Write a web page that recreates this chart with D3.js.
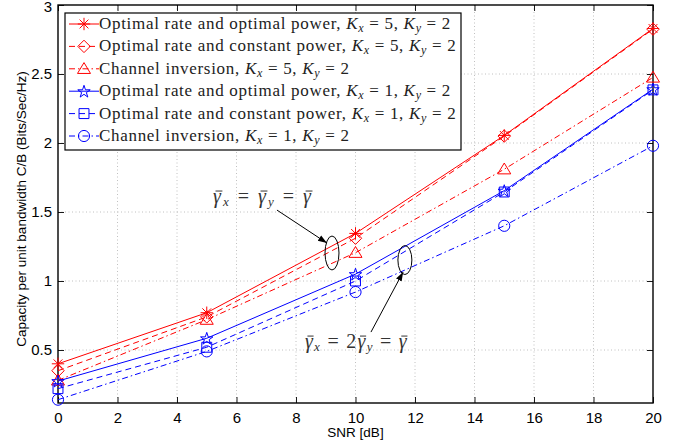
<!DOCTYPE html>
<html><head><meta charset="utf-8">
<script src="https://cdn.jsdelivr.net/npm/d3@7"></script>
<style>body{margin:0;background:#fff}svg{display:block}</style>
</head><body>
<svg id="c" width="686" height="445"></svg>
<script>
const snr = [0, 5, 10, 15, 20];
const optOptK5 = [0.40, 0.77, 1.345, 2.055, 2.83];
const optConstK5 = [0.35, 0.74, 1.31, 2.05, 2.825];
const invK5 = [0.28, 0.72, 1.205, 1.81, 2.475];
const optOptK1 = [0.275, 0.585, 1.05, 1.655, 2.39];
const optConstK1 = [0.22, 0.52, 1.0, 1.645, 2.385];
const invK1 = [0.14, 0.49, 0.92, 1.40, 1.98];
const xTicks = [0, 2, 4, 6, 8, 10, 12, 14, 16, 18, 20];
const yTicks = [0.5, 1, 1.5, 2, 2.5, 3];
const seriesNames = ["optOptK5","optConstK5","invK5","optOptK1","optConstK1","invK1"];
const legendLabels = [
  ["Optimal rate and optimal power, ", "5"],
  ["Optimal rate and constant power, ", "5"],
  ["Channel inversion, ", "5"],
  ["Optimal rate and optimal power, ", "1"],
  ["Optimal rate and constant power, ", "1"],
  ["Channel inversion, ", "1"]
];
const seriesValues = [optOptK5, optConstK5, invK5, optOptK1, optConstK1, invK1];
const colors = ["#ff0000","#ff0000","#ff0000","#0000ff","#0000ff","#0000ff"];
const dashes = [null, "6,4", "6,3,1.5,3", null, "6,4", "6,3,1.5,3"];
const markers = ["asterisk","diamond","triangle","pentagram","square","circle"];

const svg = d3.select("#c");
const L = 58, R = 653, T = 5, B = 403;
const x = d3.scaleLinear().domain([0, 20]).range([L, R]);
const y = d3.scaleLinear().domain([0.116, 3]).range([B, T]);

// grid
const g = svg.append("g");
g.selectAll(".gx").data(xTicks.slice(1, -1)).join("line")
  .attr("x1", d => x(d)).attr("x2", d => x(d)).attr("y1", T).attr("y2", B)
  .attr("stroke", "#b0b0b0").attr("stroke-width", 0.8).attr("stroke-dasharray", "1,2.5");
g.selectAll(".gy").data(yTicks.slice(0, -1)).join("line")
  .attr("x1", L).attr("x2", R).attr("y1", d => y(d)).attr("y2", d => y(d))
  .attr("stroke", "#b0b0b0").attr("stroke-width", 0.8).attr("stroke-dasharray", "1,2.5");

// axes
const fontSans = "'Liberation Sans', Arial, sans-serif";
const ax = svg.append("g").attr("transform", `translate(0,${B})`)
  .call(d3.axisBottom(x).tickValues(xTicks).tickSize(-6).tickPadding(9).tickFormat(d3.format("d")));
const axT = svg.append("g").attr("transform", `translate(0,${T})`)
  .call(d3.axisTop(x).tickValues(xTicks).tickSize(-6).tickFormat(""));
const ay = svg.append("g").attr("transform", `translate(${L},0)`)
  .call(d3.axisLeft(y).tickValues(yTicks).tickSize(-6).tickPadding(6).tickFormat(d => d3.format("")(d)));
const ayR = svg.append("g").attr("transform", `translate(${R},0)`)
  .call(d3.axisRight(y).tickValues(yTicks).tickSize(-6).tickFormat(""));
[ax, axT, ay, ayR].forEach(a => {
  a.select(".domain").remove();
  a.selectAll("line").attr("stroke", "#000").attr("stroke-width", 0.9);
  a.selectAll("text").attr("font-family", fontSans).attr("font-size", 15).attr("fill", "#000");
});
ay.selectAll(".tick text").filter(d => d === 3).attr("dy", "0.32em").attr("y", 1.5);
svg.append("rect").attr("x", L).attr("y", T).attr("width", R - L).attr("height", B - T)
  .attr("fill", "none").attr("stroke", "#000").attr("stroke-width", 1.4);

svg.append("text").attr("x", x(10)).attr("y", 437).attr("text-anchor", "middle")
  .attr("font-family", fontSans).attr("font-size", 13.5).text("SNR [dB]");
svg.append("text").attr("transform", `translate(26,${(T + B) / 2 + 5}) rotate(-90)`)
  .attr("text-anchor", "middle").attr("font-family", fontSans).attr("font-size", 13.5)
  .text("Capacity per unit bandwidth C/B (Bits/Sec/Hz)");

// markers
function markerPath(type, s) {
  const p = d3.path();
  if (type === "asterisk") {
    for (let k = 0; k < 4; k++) {
      const a = k * Math.PI / 4;
      p.moveTo(-s * Math.cos(a), -s * Math.sin(a));
      p.lineTo(s * Math.cos(a), s * Math.sin(a));
    }
  } else if (type === "diamond") {
    p.moveTo(0, -s); p.lineTo(s, 0); p.lineTo(0, s); p.lineTo(-s, 0); p.closePath();
  } else if (type === "triangle") {
    p.moveTo(0, -s); p.lineTo(s * 1.05, s * 0.75); p.lineTo(-s * 1.05, s * 0.75); p.closePath();
  } else if (type === "square") {
    const h = s * 0.8;
    p.rect(-h, -h, 2 * h, 2 * h);
  } else if (type === "circle") {
    p.arc(0, 0, s * 0.9, 0, 2 * Math.PI);
  } else if (type === "pentagram") {
    const ro = s * 1.05, ri = ro * 0.382;
    for (let k = 0; k < 10; k++) {
      const r = k % 2 ? ri : ro;
      const a = -Math.PI / 2 + k * Math.PI / 5;
      const px = r * Math.cos(a), py = r * Math.sin(a) + s * 0.1;
      if (k === 0) p.moveTo(px, py); else p.lineTo(px, py);
    }
    p.closePath();
  }
  return p.toString();
}

const line = d3.line().x(d => x(d[0])).y(d => y(d[1]));
seriesValues.forEach((vals, i) => {
  const pts = snr.map((s, j) => [s, vals[j]]);
  const sg = svg.append("g").attr("class", seriesNames[i]);
  sg.append("path").attr("d", line(pts)).attr("fill", "none").attr("stroke", colors[i])
    .attr("stroke-width", 1).attr("stroke-dasharray", dashes[i]);
  sg.selectAll("path.m").data(pts).join("path").attr("class", "m")
    .attr("transform", d => `translate(${x(d[0])},${y(d[1])})`)
    .attr("d", markerPath(markers[i], 6.2)).attr("fill", "none")
    .attr("stroke", colors[i]).attr("stroke-width", 1);
});

// legend
const fontSerif = "'Liberation Serif', 'DejaVu Serif', serif";
const lg = svg.append("g");
lg.append("rect").attr("x", 65).attr("y", 13).attr("width", 396).attr("height", 137)
  .attr("fill", "#fff").attr("stroke", "#000").attr("stroke-width", 1.2);
let spacing = null;
legendLabels.forEach((lab, i) => {
  const cy = 24 + i * 22.4;
  lg.append("line").attr("x1", 69).attr("x2", 99).attr("y1", cy).attr("y2", cy)
    .attr("stroke", colors[i]).attr("stroke-width", 1).attr("stroke-dasharray", dashes[i]);
  lg.append("path").attr("transform", `translate(84,${cy})`).attr("d", markerPath(markers[i], 6.2))
    .attr("fill", "none").attr("stroke", colors[i]).attr("stroke-width", 1);
  const t = lg.append("text").attr("x", 99).attr("y", cy + 5).attr("font-family", fontSerif)
    .attr("font-size", 17).attr("fill", "#222");
  t.append("tspan").text(lab[0]);
  t.append("tspan").attr("font-style", "italic").text("K");
  t.append("tspan").attr("font-style", "italic").attr("font-size", 12).attr("dy", 3).text("x");
  t.append("tspan").attr("dy", -3).text(" = " + lab[1] + ", ");
  t.append("tspan").attr("font-style", "italic").text("K");
  t.append("tspan").attr("font-style", "italic").attr("font-size", 12).attr("dy", 3).text("y");
  t.append("tspan").attr("dy", -3).text(" = 2");
  if (spacing === null) {
    const len = t.node().getComputedTextLength();
    const n = t.text().length;
    spacing = Math.max(0, (352 - len) / n);
  }
  t.attr("letter-spacing", spacing);
});

// annotations
const ann = svg.append("g");
svg.append("defs").append("marker").attr("id", "ah").attr("viewBox", "0 0 10 10")
  .attr("refX", 10).attr("refY", 5).attr("markerWidth", 9).attr("markerHeight", 9)
  .attr("markerUnits", "userSpaceOnUse").attr("orient", "auto")
  .append("path").attr("d", "M0,1.5L10,5L0,8.5Z").attr("fill", "#000");
const ellipses = [[9.21, 1.203, 0.235, 0.123], [11.66, 1.152, 0.235, 0.105]];
ellipses.forEach(e => {
  ann.append("ellipse").attr("cx", x(e[0])).attr("cy", y(e[1]))
    .attr("rx", x(e[2]) - x(0)).attr("ry", y(0.116) - y(0.116 + e[3]))
    .attr("fill", "none").attr("stroke", "#000").attr("stroke-width", 1);
});
const arrows = [[7.36, 1.514, 9.04, 1.275], [10.52, 0.63, 11.6, 1.065]];
arrows.forEach(a => {
  ann.append("line").attr("x1", x(a[0])).attr("y1", y(a[1])).attr("x2", x(a[2])).attr("y2", y(a[3]))
    .attr("stroke", "#000").attr("stroke-width", 1).attr("marker-end", "url(#ah)");
});
function gammaText(xd, yd, parts, target) {
  const fs = 20;
  const base = y(yd);
  const t = ann.append("text").attr("x", x(xd)).attr("y", base).attr("font-family", fontSerif)
    .attr("font-size", fs).attr("fill", "#333");
  const barIdx = [];
  let idx = 0;
  parts.forEach(p => {
    const s = t.append("tspan").text(p.t);
    if (p.i) s.attr("font-style", "italic");
    if (p.bar) barIdx.push(idx);
    if (p.sub) s.attr("font-size", 13).attr("dy", p.dy);
    else if (p.dy) s.attr("dy", p.dy);
    idx += p.t.length;
  });
  const len = t.node().getComputedTextLength();
  const n = t.text().length;
  t.attr("letter-spacing", Math.max(0, (target - len) / n));
  barIdx.forEach(k => {
    const ext = t.node().getExtentOfChar(k);
    ann.append("line").attr("x1", ext.x + 2.5).attr("x2", ext.x + ext.width - 0.5)
      .attr("y1", base - 0.6 * fs).attr("y2", base - 0.6 * fs)
      .attr("stroke", "#333").attr("stroke-width", 1);
  });
}
gammaText(5.21, 1.565, [
  {t: "\u03B3", i: 1, bar: 1}, {t: "x", i: 1, sub: 1, dy: 3}, {t: " = ", dy: -3},
  {t: "\u03B3", i: 1, bar: 1}, {t: "y", i: 1, sub: 1, dy: 3}, {t: " = ", dy: -3},
  {t: "\u03B3", i: 1, bar: 1}
], 100);
gammaText(8.30, 0.514, [
  {t: "\u03B3", i: 1, bar: 1}, {t: "x", i: 1, sub: 1, dy: 3}, {t: " = 2", dy: -3},
  {t: "\u03B3", i: 1, bar: 1}, {t: "y", i: 1, sub: 1, dy: 3}, {t: " = ", dy: -3},
  {t: "\u03B3", i: 1, bar: 1}
], 103);
</script>
</body></html>
